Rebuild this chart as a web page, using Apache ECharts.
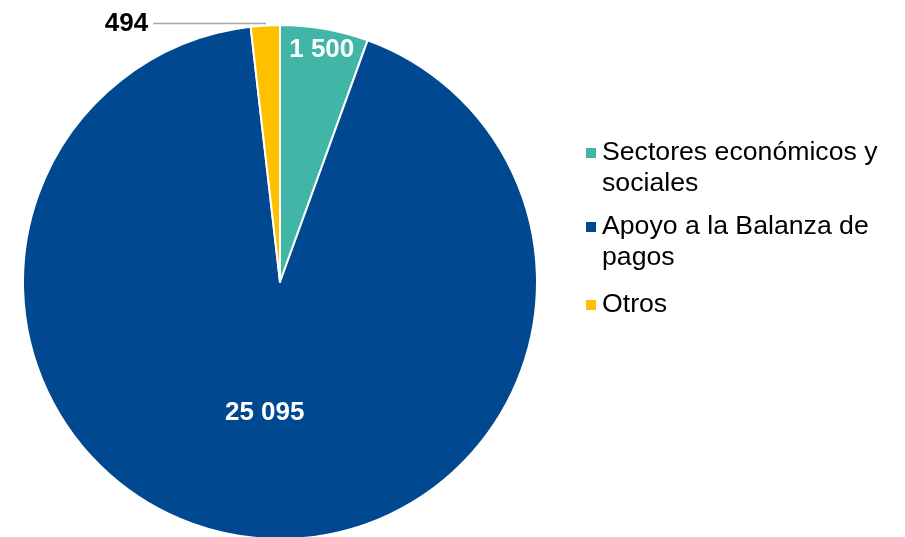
<!DOCTYPE html>
<html>
<head>
<meta charset="utf-8">
<script src="https://cdn.jsdelivr.net/npm/echarts@6/dist/echarts.min.js"></script>
<style>
  html, body { margin: 0; padding: 0; background: #fff; }
  #chart { width: 905px; height: 537px; }
</style>
</head>
<body>
<div id="chart"></div>
<script>
const categories = ['Sectores económicos y sociales', 'Apoyo a la Balanza de pagos', 'Otros'];
const values = [1500, 25095, 494];
const colors = ['#41B6A6', '#00488F', '#FFC000'];

// square icon placed at the first text line (two-line items) or centred (one line)
const iconTop = 'path://M0,0h10v10h-10Z M0,40';
const iconMid = 'path://M0,0 M0,15h10v10h-10Z M0,40';

const fmt = v => String(v).replace(/\B(?=(\d{3})+(?!\d))/g, ' ');

// word wrap for legend names, no leading space on the next line
function wrap(name, maxChars) {
  const lines = [];
  let cur = '';
  name.split(' ').forEach(w => {
    if (cur && (cur + ' ' + w).length > maxChars) {
      lines.push(cur);
      cur = w;
    } else {
      cur = cur ? cur + ' ' + w : w;
    }
  });
  lines.push(cur);
  return lines.join('\n');
}

const chart = echarts.init(document.getElementById('chart'));

const option = {
  animation: false,
  textStyle: { fontFamily: 'Liberation Sans, Arial, sans-serif' },
  legend: {
    orient: 'vertical',
    left: 586,
    top: 137,
    padding: 0,
    itemGap: 12,
    itemWidth: 12,
    itemHeight: 40,
    itemStyle: { borderWidth: 0 },
    textStyle: {
      fontSize: 26.67,
      lineHeight: 31,
      color: '#000'
    },
    formatter: name => wrap(name, 21),
    data: categories.map((c, i) => ({ name: c, icon: i < 2 ? iconTop : iconMid }))
  },
  series: [{
    type: 'pie',
    center: [280, 282],
    radius: 257,
    startAngle: 90,
    clockwise: true,
    avoidLabelOverlap: false,
    emphasis: { disabled: true },
    itemStyle: { borderColor: '#fff', borderWidth: 2 },
    label: {
      position: 'inside',
      color: '#fff',
      fontSize: 26,
      fontWeight: 'bold',
      formatter: p => fmt(p.value)
    },
    labelLayout: p => (p.dataIndex === 0 ? { dx: 19, dy: -103 } : {}),
    data: categories.map((c, i) => {
      const d = { name: c, value: values[i], itemStyle: { color: colors[i] } };
      if (i === 2) {
        d.label = { position: 'outside', color: '#000', distanceToLabelLine: 5 };
        d.labelLine = { show: true, length: 2, length2: 112, lineStyle: { color: '#A6A6A6', width: 1.5 } };
      }
      return d;
    })
  }]
};

chart.setOption(option);
window.addEventListener('resize', () => chart.resize());
</script>
</body>
</html>
